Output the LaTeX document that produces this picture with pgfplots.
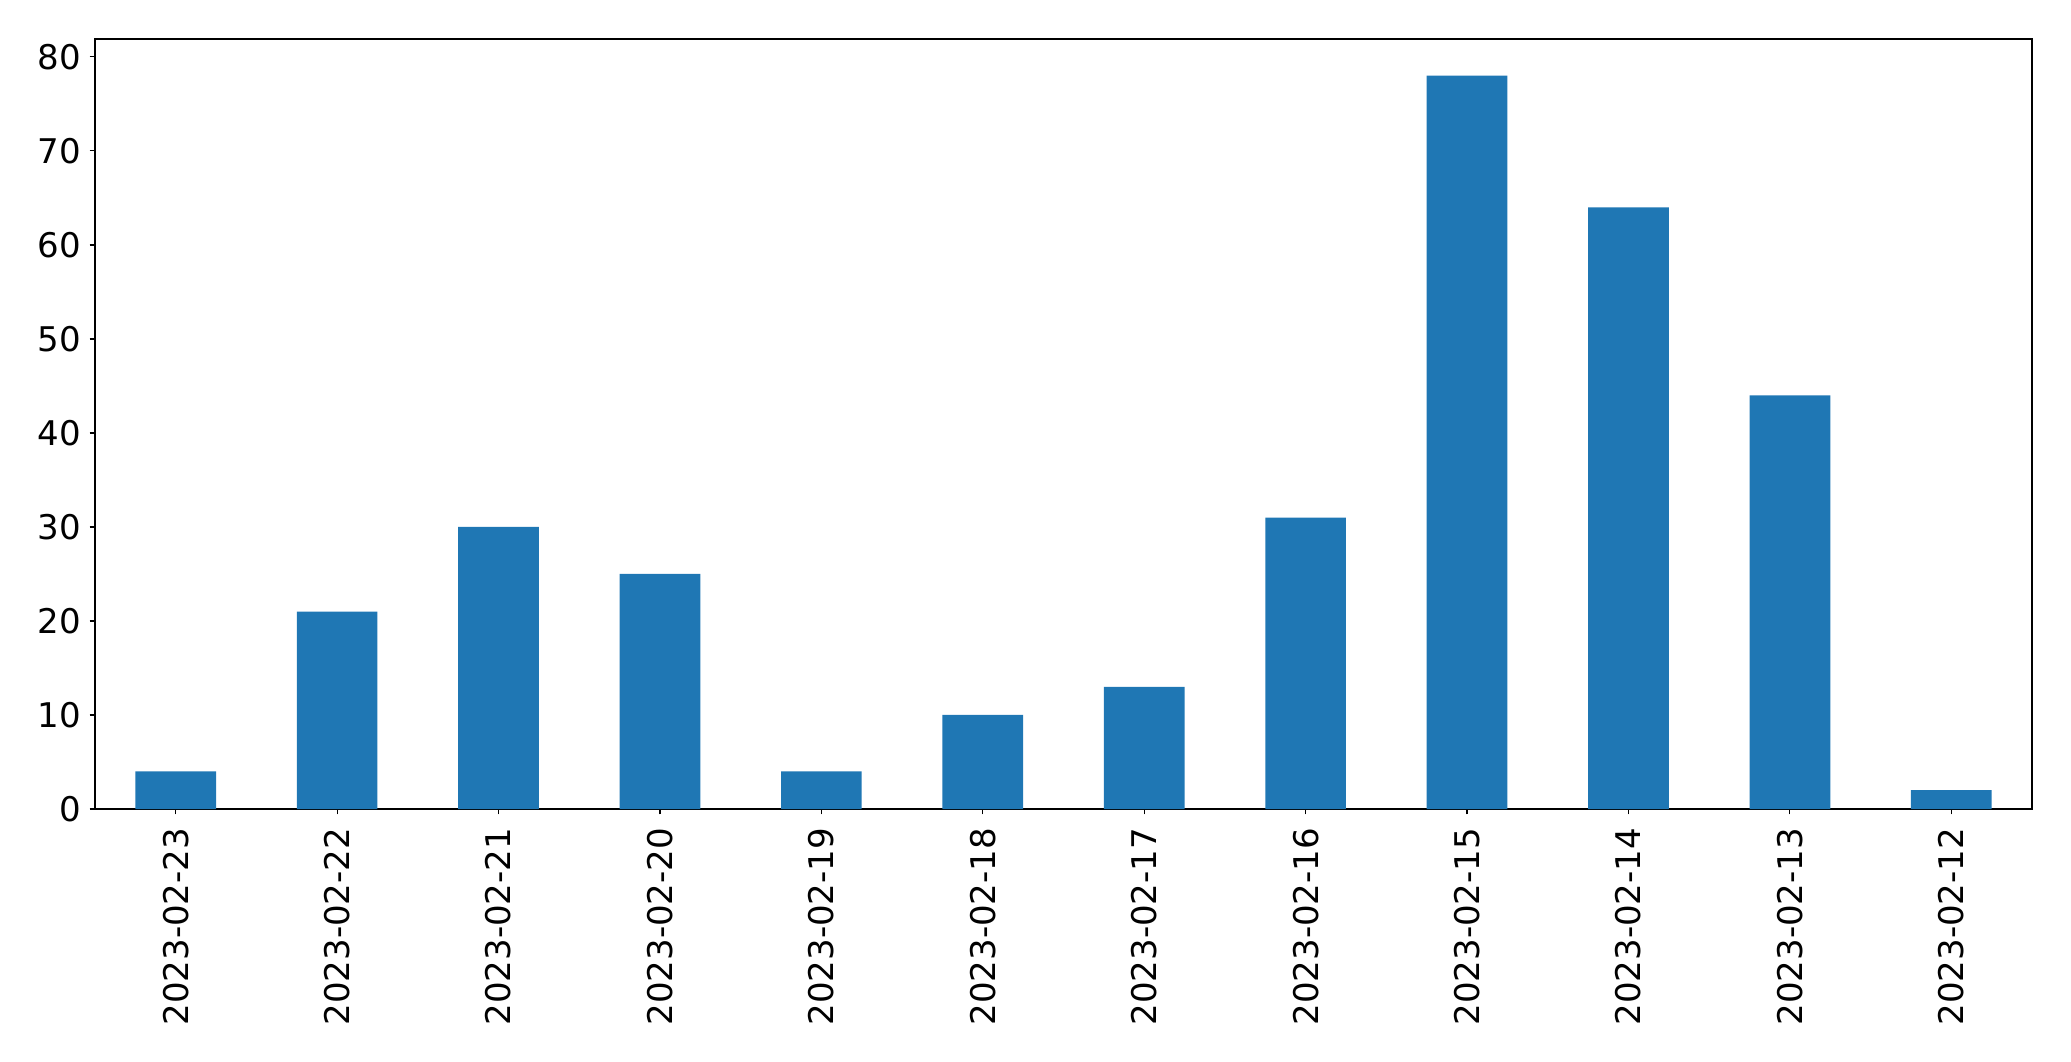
\documentclass[border=0pt]{standalone}
\usepackage{fontspec}
\setmainfont{DejaVu Sans}
\usepackage{pgfplots}
\pgfplotsset{compat=1.18}
\definecolor{mplblue}{HTML}{1F77B4}
\begin{document}
\begin{tikzpicture}
\path[use as bounding box] (-47.5pt,-126pt) rectangle (988pt,404.5pt);
\begin{axis}[
  scale only axis,
  width=968.5pt, height=385pt,
  xmin=-0.5, xmax=11.5, ymin=0, ymax=81.9,
  ybar, bar width=0.5, bar shift=0pt,
  xtick={0,...,11},
  xticklabels={2023-02-23,2023-02-22,2023-02-21,2023-02-20,2023-02-19,2023-02-18,2023-02-17,2023-02-16,2023-02-15,2023-02-14,2023-02-13,2023-02-12},
  x tick label style={rotate=90, anchor=east, inner sep=0pt, xshift=0pt},
  ytick={0,10,...,80},
  y tick label style={inner sep=0pt},
  tick align=outside, tick pos=left,
  major tick length=2.7pt,
  xticklabel shift=6.5pt, yticklabel shift=4pt,
  ticklabel style={font=\fontsize{17}{20}\selectfont},
  /pgf/number format/assume math mode=true,
  axis line style={line width=0.6pt},
  tick style={line width=0.6pt, black},
]
\addplot[fill=mplblue, draw=none] coordinates {
(0,4) (1,21) (2,30) (3,25) (4,4) (5,10) (6,13) (7,31) (8,78) (9,64) (10,44) (11,2)
};
\end{axis}
\end{tikzpicture}
\end{document}
